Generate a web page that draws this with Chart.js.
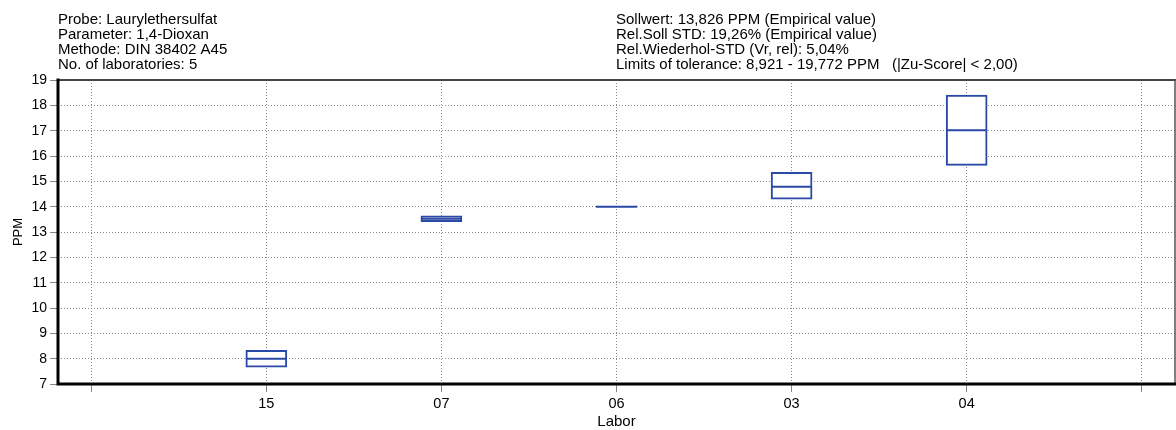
<!DOCTYPE html>
<html lang="de">
<head>
<meta charset="UTF-8">
<title>Laurylethersulfat - 1,4-Dioxan</title>
<style>
  html, body { margin: 0; padding: 0; background: #fff; overflow: hidden; }
  #cv { display: block; }
</style>
</head>
<body>
<canvas id="cv" width="1176" height="430"></canvas>
<script src="https://cdn.jsdelivr.net/npm/chart.js@4.4.1/dist/chart.umd.min.js"></script>
<script>
// x positions 0..6, the outer two slots stay empty
const labs = ['', '15', '07', '06', '03', '04', ''];
const labPos = [1, 2, 3, 4, 5];
const q1 = [7.66, 13.41, 14.0, 14.30, 15.63];
const median = [8.0, 13.52, 14.0, 14.79, 17.02];
const q3 = [8.33, 13.64, 14.0, 15.36, 18.40];
const yTicks = [7, 8, 9, 10, 11, 12, 13, 14, 15, 16, 17, 18, 19];

const infoLeft = [
    'Probe: Laurylethersulfat',
    'Parameter: 1,4-Dioxan',
    'Methode: DIN 38402 A45',
    'No. of laboratories: 5'
];
const infoRight = [
    'Sollwert: 13,826 PPM (Empirical value)',
    'Rel.Soll STD: 19,26% (Empirical value)',
    'Rel.Wiederhol-STD (Vr, rel): 5,04%',
    'Limits of tolerance: 8,921 - 19,772 PPM   (|Zu-Score| < 2,00)'
];

const FONT = 'Liberation Sans, Arial, sans-serif';
const BLUE = 'rgb(42,72,165)';

// header text + plot frame
const frame = {
    id: 'frame',
    afterDraw(chart) {
        const ctx = chart.ctx;
        const a = chart.chartArea;
        ctx.save();
        ctx.fillStyle = '#000';
        ctx.font = '15px ' + FONT;
        ctx.textBaseline = 'alphabetic';
        infoLeft.forEach((t, i) => ctx.fillText(t, 58, 24 + i * 15));
        infoRight.forEach((t, i) => ctx.fillText(t, 616, 24 + i * 15));

        ctx.lineCap = 'square';
        ctx.strokeStyle = '#444';
        ctx.lineWidth = 2;
        ctx.beginPath();
        ctx.moveTo(a.left, a.top); ctx.lineTo(a.right, a.top);
        ctx.stroke();
        ctx.strokeStyle = '#555';
        ctx.lineWidth = 1.5;
        ctx.beginPath();
        ctx.moveTo(a.right, a.top); ctx.lineTo(a.right, a.bottom);
        ctx.stroke();
        ctx.strokeStyle = '#000';
        ctx.lineWidth = 3;
        ctx.beginPath();
        ctx.moveTo(a.left, a.top); ctx.lineTo(a.left, a.bottom); ctx.lineTo(a.right, a.bottom);
        ctx.stroke();
        ctx.restore();
    }
};

new Chart(document.getElementById('cv'), {
    type: 'bar',
    data: {
        datasets: [
            {
                type: 'scatter',
                label: 'Median',
                data: labPos.map((x, i) => ({ x: x, y: median[i] })),
                pointStyle: 'line',
                pointRadius: 20.5,
                pointBorderWidth: 2,
                borderColor: BLUE,
                backgroundColor: BLUE,
                order: 0
            },
            {
                label: 'Box',
                data: labPos.map((x, i) => ({ x: x, y: [q1[i], q3[i]] })),
                barThickness: 41,
                borderWidth: 2,
                borderSkipped: false,
                borderColor: BLUE,
                backgroundColor: '#fff',
                order: 1
            }
        ]
    },
    options: {
        responsive: false,
        animation: false,
        events: [],
        layout: { autoPadding: false, padding: { top: 80, right: 1, left: 0, bottom: 0 } },
        plugins: { legend: { display: false }, tooltip: { enabled: false } },
        scales: {
            x: {
                type: 'linear',
                min: -0.19,
                max: 6.19,
                offset: false,
                afterBuildTicks: s => { s.ticks = labs.map((_, i) => ({ value: i })); },
                afterFit: s => { s.height = 46; s.paddingLeft = 0; s.paddingRight = 0; },
                ticks: {
                    autoSkip: false,
                    maxRotation: 0,
                    padding: 3,
                    color: '#000',
                    font: { family: FONT, size: 14.5 },
                    callback: v => labs[v]
                },
                grid: {
                    offset: false,
                    color: '#8a8a8a',
                    lineWidth: 1,
                    tickLength: 8,
                    tickColor: '#888',
                    tickBorderDash: []
                },
                border: { display: false, dash: [1, 2] },
                title: {
                    display: true,
                    text: 'Labor',
                    color: '#000',
                    font: { family: FONT, size: 15 },
                    padding: { top: 0, bottom: -1 }
                }
            },
            y: {
                min: 7,
                max: 19,
                afterBuildTicks: s => { s.ticks = yTicks.map(v => ({ value: v })); },
                afterFit: s => { s.width = 58; },
                ticks: {
                    padding: 3,
                    color: '#000',
                    font: { family: FONT, size: 14 }
                },
                grid: {
                    color: '#8a8a8a',
                    lineWidth: 1,
                    tickLength: 8,
                    tickColor: '#888',
                    tickBorderDash: []
                },
                border: { display: false, dash: [1, 2] },
                title: {
                    display: true,
                    text: 'PPM',
                    color: '#000',
                    font: { family: FONT, size: 13 },
                    padding: { top: 11, bottom: 0 }
                }
            }
        }
    },
    plugins: [frame]
});
</script>
</body>
</html>
